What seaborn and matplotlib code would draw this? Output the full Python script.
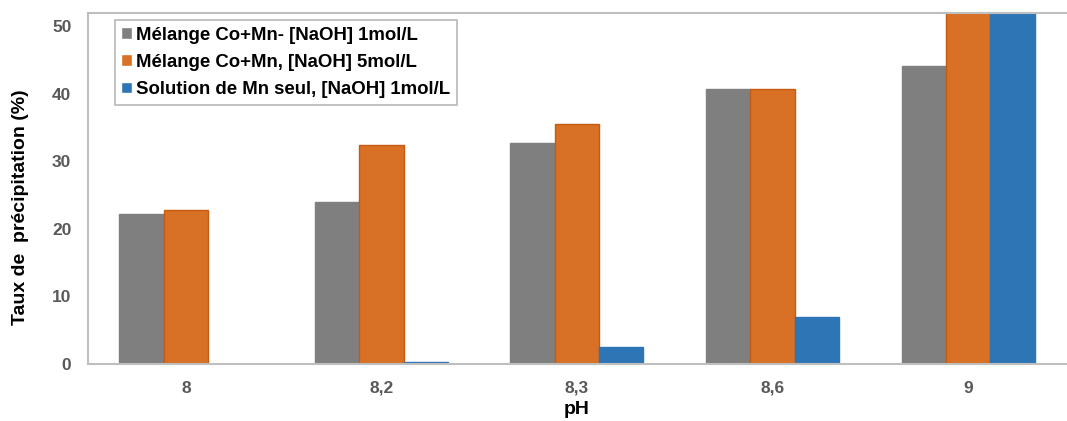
import pandas as pd
import matplotlib.pyplot as plt
import seaborn as sns
from matplotlib.ticker import FixedLocator

# data
ph = ["8", "8,2", "8,3", "8,6", "9"]
series = ["Mélange Co+Mn- [NaOH] 1mol/L",
          "Mélange Co+Mn, [NaOH] 5mol/L",
          "Solution de Mn seul, [NaOH] 1mol/L"]
mix_1m = [22.2, 24.0, 32.8, 40.7, 44.2]
mix_5m = [22.8, 32.5, 35.6, 40.7, 60.0]   # last bar runs past the top
mn_1m = [0.0, 0.3, 2.5, 7.0, 60.0]

df = pd.DataFrame({
    "pH": ph * 3,
    "serie": [series[0]] * 5 + [series[1]] * 5 + [series[2]] * 5,
    "taux": mix_1m + mix_5m + mn_1m,
})

palette = ["#7F7F7F", "#D87025", "#2E75B6"]
edges = ["#7F7F7F", "#C55A11", "#2E75B6"]

sns.set_style("white")
plt.rcParams["font.family"] = ["Liberation Sans", "DejaVu Sans"]

fig = plt.figure(figsize=(10.67, 4.21), dpi=100)
ax = fig.add_axes([0.0825, 0.1354, 0.9165, 0.834])

sns.barplot(data=df, x="pH", y="taux", hue="serie", palette=palette,
            width=0.68, saturation=1, ax=ax, errorbar=None)

for cont, ec in zip(ax.containers, edges):
    for bar in cont:
        bar.set_edgecolor(ec)
        bar.set_linewidth(1.0)

ax.set_ylim(0, 52)
ax.set_xlim(-0.5, 4.5)
ax.set_yticks([0, 10, 20, 30, 40, 50])

ax.xaxis.set_minor_locator(FixedLocator([0.5, 1.5, 2.5, 3.5]))
ax.tick_params(axis="x", which="major", length=0, pad=12)
ax.tick_params(axis="x", which="minor", direction="in", length=5,
               color="#BFBFBF", width=1.2)
ax.tick_params(axis="y", which="major", direction="out", length=4,
               color="#BFBFBF", width=1.0, pad=8)
for lab in ax.get_xticklabels() + ax.get_yticklabels():
    lab.set_fontweight("bold")
    lab.set_color("#595959")
    lab.set_fontsize(12.5)

for side in ["left", "bottom", "top"]:
    ax.spines[side].set_color("#BFBFBF")
    ax.spines[side].set_linewidth(1.5)
ax.spines["right"].set_visible(False)

ax.set_xlabel("pH", fontsize=14, fontweight="bold", color="black", labelpad=4)
ax.set_ylabel("Taux de  précipitation (%)", fontsize=14, fontweight="bold",
              color="black")
ax.yaxis.set_label_coords(-0.060, 0.447)

handles, labels = ax.get_legend_handles_labels()
leg = ax.legend(handles, labels, loc="upper left",
                bbox_to_anchor=(0.0235, 0.99), frameon=True, fancybox=False,
                handlelength=0.6, handleheight=0.6, handletextpad=0.2,
                labelspacing=0.55, borderpad=0.35, borderaxespad=0.2,
                prop={"weight": "bold", "size": 13.4})
leg.get_frame().set_edgecolor("#A6A6A6")
leg.get_frame().set_linewidth(1.2)
for t in leg.get_texts():
    t.set_color("black")

fig.savefig("out.png", dpi=100)
